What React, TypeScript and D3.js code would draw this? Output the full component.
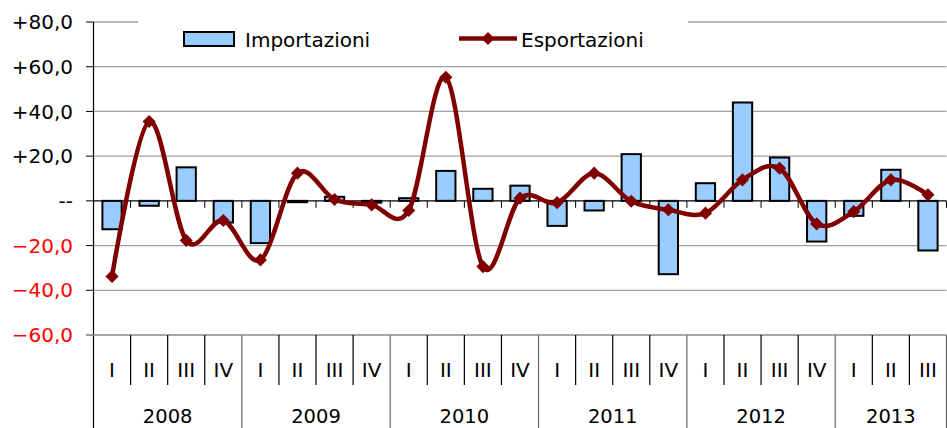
import React from 'react'
import * as d3 from 'd3'

const quarterLabels = ['I', 'II', 'III', 'IV', 'I', 'II', 'III', 'IV', 'I', 'II', 'III', 'IV',
  'I', 'II', 'III', 'IV', 'I', 'II', 'III', 'IV', 'I', 'II', 'III']
const yearLabels = ['2008', '2009', '2010', '2011', '2012', '2013']
const quartersPerYear = [4, 4, 4, 4, 4, 3]

const importazioni = [-12.7, -2.2, 15.0, -9.7, -18.9, -0.6, 1.8, -0.8, 1.2, 13.4, 5.4, 6.8,
  -11.2, -4.3, 20.9, -32.8, 7.9, 44.0, 19.4, -18.2, -6.7, 13.9, -22.2]
const esportazioni = [-33.8, 35.5, -17.7, -8.8, -26.4, 12.4, 0.6, -1.8, -4.3, 55.3, -29.4, 1.2,
  -0.8, 12.4, -0.2, -4.0, -5.5, 9.4, 14.6, -10.3, -4.8, 9.4, 2.7]

const yTicks = [80, 60, 40, 20, 0, -20, -40, -60]

const W = 947
const H = 428
const font = 'DejaVu Sans, Verdana, sans-serif'

const App = () => {
  const left = 93.5
  const right = 946.5
  const x = d3.scaleBand<number>()
    .domain(d3.range(quarterLabels.length))
    .range([left, right])
    .padding(0)
  const y = d3.scaleLinear().domain([-60, 80]).range([335, 22])
  const step = x.step()
  const barW = step * 0.52
  const cx = (i: number) => (x(i) as number) + step / 2

  const line = d3.line<number>()
    .x((d, i) => cx(i))
    .y(d => y(d))
    .curve(d3.curveCardinal.tension(0))

  const diamond = d3.symbol(d3.symbolSquare, 86)()

  const fmt = (v: number) => v === 0 ? '--' : (v > 0 ? '+' : '') + d3.format('.1f')(v).replace('.', ',')

  // year boundaries
  const yearStarts = d3.cumsum([0, ...quartersPerYear]) as unknown as number[]
  const bottomY = y(-60)

  return (
    <svg width={W} height={H} style={{ position: 'absolute', left: 0, top: 0, background: '#fff' }}
      fontFamily={font}>
      {/* gridlines */}
      {yTicks.filter(t => t !== 0).map(t => (
        <line key={'g' + t} x1={left} x2={right} y1={y(t)} y2={y(t)} stroke="#a0a0a0" strokeWidth={1.3} />
      ))}
      {/* legend background over top gridline */}
      <rect x={138} y={8} width={550} height={50} fill="#fff" />
      {/* y axis */}
      <line x1={left} x2={left} y1={y(80)} y2={H} stroke="#000" strokeWidth={1.2} />
      {yTicks.map(t => (
        <g key={'t' + t}>
          <line x1={86} x2={left} y1={y(t)} y2={y(t)} stroke="#000" strokeWidth={1} />
          <text x={73} y={y(t)} dy="0.36em" textAnchor="end" fontSize={20}
            fill={t < 0 ? '#ff0000' : '#000'}>{fmt(t)}</text>
        </g>
      ))}
      {/* bars */}
      {importazioni.map((v, i) => (
        <rect key={'b' + i} x={cx(i) - barW / 2} y={Math.min(y(v), y(0))}
          width={barW} height={Math.max(Math.abs(y(v) - y(0)), 0.5)}
          fill="#99ccff" stroke="#000" strokeWidth={2} />
      ))}
      {/* zero axis */}
      <line x1={left} x2={right} y1={y(0)} y2={y(0)} stroke="#000" strokeWidth={1.2} />
      {d3.range(1, quarterLabels.length + 1).map(i => (
        <line key={'zt' + i} x1={left + i * step} x2={left + i * step} y1={y(0)} y2={y(0) + 7}
          stroke="#000" strokeWidth={1} />
      ))}
      {/* line */}
      <path d={line(esportazioni) || ''} fill="none" stroke="#800000" strokeWidth={4.5} />
      {esportazioni.map((v, i) => (
        <path key={'m' + i} d={diamond || ''} transform={`translate(${cx(i)},${y(v)}) rotate(45)`} fill="#800000" />
      ))}
      {/* category axis */}
      <line x1={86} x2={right} y1={bottomY} y2={bottomY} stroke="#a0a0a0" strokeWidth={1.3} />
      {d3.range(1, quarterLabels.length + 1).map(i => {
        const isYear = yearStarts.includes(i)
        return (
          <line key={'qs' + i} x1={left + i * step} x2={left + i * step} y1={bottomY}
            y2={isYear ? H : 385} stroke={isYear ? '#666' : '#000'} strokeWidth={1.2} />
        )
      })}
      {quarterLabels.map((q, i) => (
        <text key={'q' + i} x={cx(i)} y={376.5} textAnchor="middle" fontSize={20} fill="#000">{q}</text>
      ))}
      {yearLabels.map((yr, k) => (
        <text key={'y' + yr} x={left + (yearStarts[k] + quartersPerYear[k] / 2) * step} y={423}
          textAnchor="middle" fontSize={19.5} fill="#000">{yr}</text>
      ))}
      {/* legend */}
      <rect x={184} y={32} width={50} height={14} fill="#99ccff" stroke="#000" strokeWidth={2} />
      <text x={245} y={47} fontSize={20} fill="#000">Importazioni</text>
      <line x1={459} x2={517} y1={38.5} y2={38.5} stroke="#800000" strokeWidth={4.5} />
      <path d={diamond || ''} transform="translate(488,38.5) rotate(45)" fill="#800000" />
      <text x={521} y={47} fontSize={20} fill="#000">Esportazioni</text>
    </svg>
  )
}

export default App
